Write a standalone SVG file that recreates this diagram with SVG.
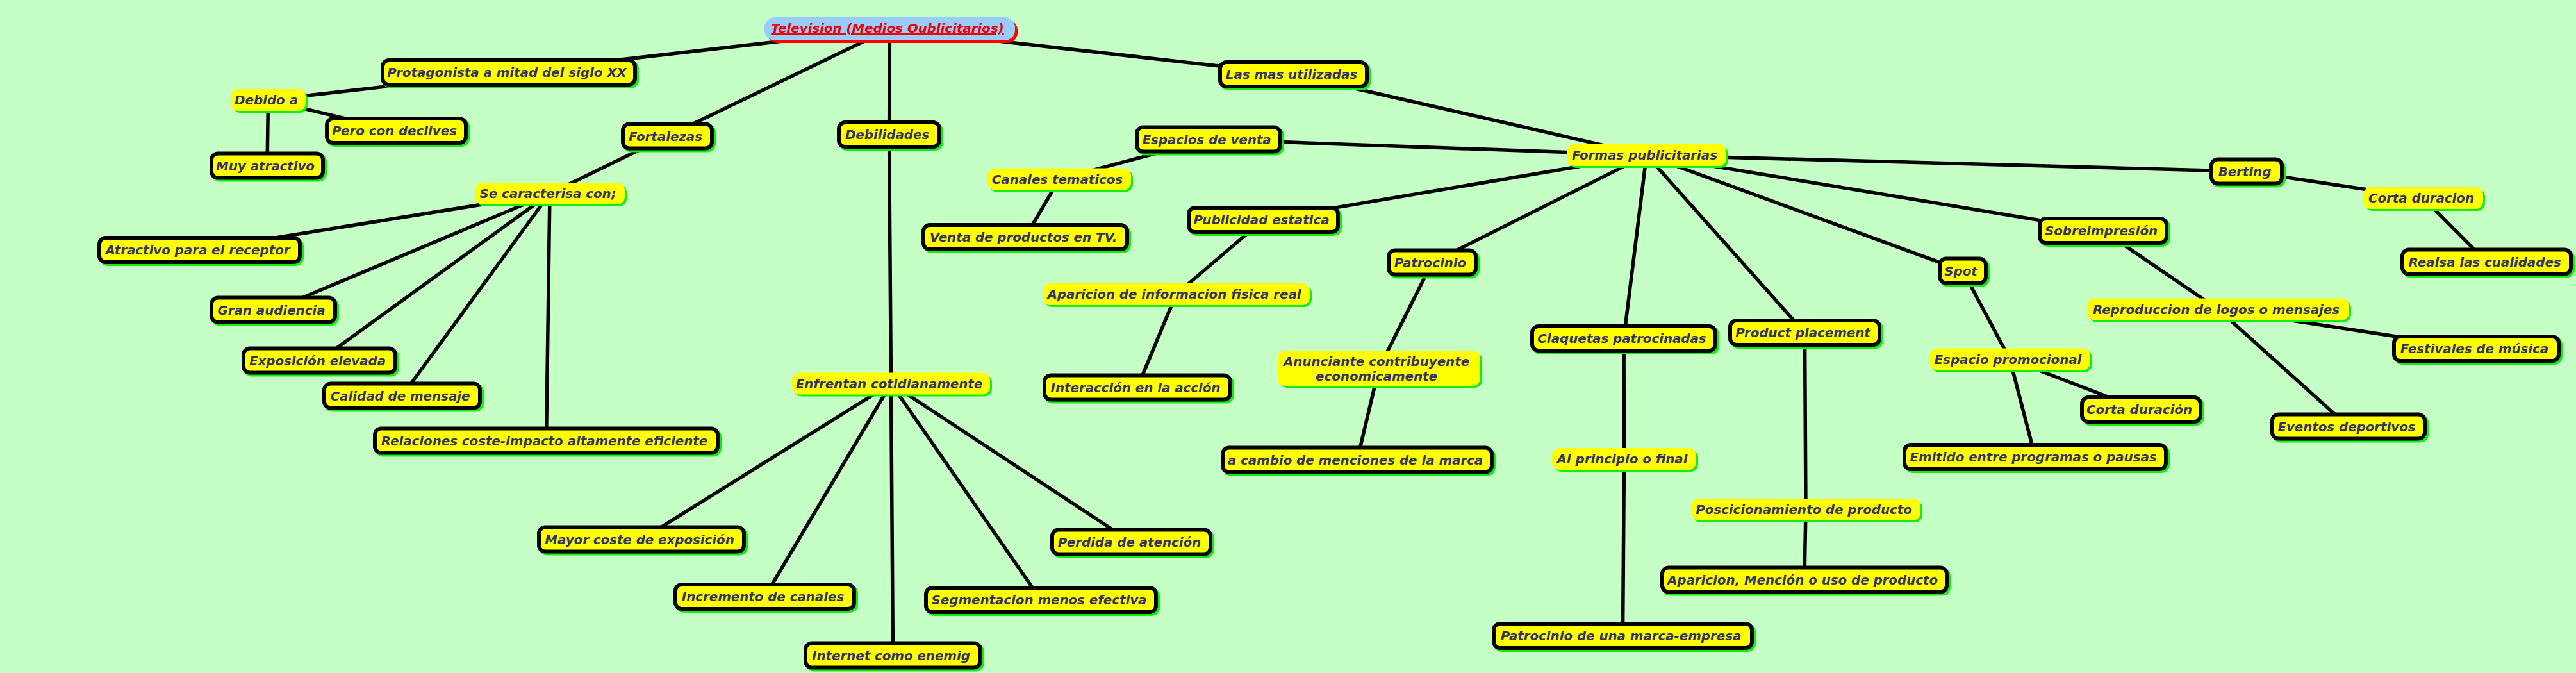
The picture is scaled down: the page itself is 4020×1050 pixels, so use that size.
<svg xmlns="http://www.w3.org/2000/svg" width="4020" height="1050" viewBox="0 0 4020 1050">
<style>
.ln{stroke:#000;stroke-width:5.5;stroke-linecap:round;fill:none}
.sh{fill:#11ee11}
.bx{fill:#ffff00;stroke:#000;stroke-width:6}
.ub{fill:#ffff00}
.t{font-family:"DejaVu Sans",Verdana,sans-serif;font-weight:bold;font-style:italic;font-size:19.8px;fill:#333366;text-anchor:middle}
.rt{font-family:"DejaVu Sans",Verdana,sans-serif;font-weight:bold;font-style:italic;font-size:19.8px;fill:#ee0000;text-anchor:middle;text-decoration:underline}
</style>
<rect x="0" y="0" width="4020" height="1050" fill="#c6ffc6"/>
<g id="connectors">
<line class="ln" x1="1388.5" y1="45" x2="794" y2="113"/>
<line class="ln" x1="1388.5" y1="45" x2="1041.5" y2="212.5"/>
<line class="ln" x1="1388.5" y1="45" x2="1387.5" y2="210"/>
<line class="ln" x1="1388.5" y1="45" x2="2018.5" y2="116"/>
<line class="ln" x1="794" y1="113" x2="418.5" y2="156"/>
<line class="ln" x1="418.5" y1="156" x2="618.5" y2="204"/>
<line class="ln" x1="418.5" y1="156" x2="417" y2="258.5"/>
<line class="ln" x1="1041.5" y1="212.5" x2="858" y2="302"/>
<line class="ln" x1="858" y1="302" x2="311.5" y2="390"/>
<line class="ln" x1="858" y1="302" x2="426.5" y2="483.5"/>
<line class="ln" x1="858" y1="302" x2="498.5" y2="562.5"/>
<line class="ln" x1="858" y1="302" x2="627.5" y2="617.5"/>
<line class="ln" x1="858" y1="302" x2="852.5" y2="687.5"/>
<line class="ln" x1="1387.5" y1="210" x2="1390.5" y2="598.5"/>
<line class="ln" x1="1390.5" y1="598.5" x2="1001" y2="841.5"/>
<line class="ln" x1="1390.5" y1="598.5" x2="1193.5" y2="931"/>
<line class="ln" x1="1390.5" y1="598.5" x2="1393.5" y2="1022.5"/>
<line class="ln" x1="1390.5" y1="598.5" x2="1624.5" y2="936"/>
<line class="ln" x1="1390.5" y1="598.5" x2="1765.5" y2="845.5"/>
<line class="ln" x1="2018.5" y1="116" x2="2569.5" y2="242"/>
<line class="ln" x1="2569.5" y1="242" x2="1886" y2="217.5"/>
<line class="ln" x1="2569.5" y1="242" x2="1971.5" y2="343"/>
<line class="ln" x1="2569.5" y1="242" x2="2235" y2="409.5"/>
<line class="ln" x1="2569.5" y1="242" x2="2534" y2="528"/>
<line class="ln" x1="2569.5" y1="242" x2="2816.5" y2="519"/>
<line class="ln" x1="2569.5" y1="242" x2="3063" y2="422.5"/>
<line class="ln" x1="2569.5" y1="242" x2="3282" y2="360"/>
<line class="ln" x1="2569.5" y1="242" x2="3506" y2="267.5"/>
<line class="ln" x1="1886" y1="217.5" x2="1653" y2="279.5"/>
<line class="ln" x1="1653" y1="279.5" x2="1600" y2="370"/>
<line class="ln" x1="1971.5" y1="343" x2="1835.5" y2="459"/>
<line class="ln" x1="1835.5" y1="459" x2="1775" y2="604.5"/>
<line class="ln" x1="2235" y1="409.5" x2="2152" y2="574.5"/>
<line class="ln" x1="2152" y1="574.5" x2="2118" y2="717.5"/>
<line class="ln" x1="2534" y1="528" x2="2534.5" y2="716"/>
<line class="ln" x1="2534.5" y1="716" x2="2532.5" y2="992"/>
<line class="ln" x1="2816.5" y1="519" x2="2818" y2="795"/>
<line class="ln" x1="2818" y1="795" x2="2816" y2="904.5"/>
<line class="ln" x1="3063" y1="422.5" x2="3136.5" y2="560.5"/>
<line class="ln" x1="3136.5" y1="560.5" x2="3341.5" y2="639"/>
<line class="ln" x1="3136.5" y1="560.5" x2="3176" y2="713"/>
<line class="ln" x1="3282" y1="360" x2="3461.5" y2="482.5"/>
<line class="ln" x1="3461.5" y1="482.5" x2="3864.5" y2="544"/>
<line class="ln" x1="3461.5" y1="482.5" x2="3665" y2="665.5"/>
<line class="ln" x1="3506" y1="267.5" x2="3781.5" y2="309"/>
<line class="ln" x1="3781.5" y1="309" x2="3880.5" y2="408.5"/>
</g>
<g id="root">
<rect x="1197" y="31" width="391" height="36" rx="16" fill="#ff0000"/>
<rect x="1193" y="27" width="391" height="36" rx="16" fill="#99ccff"/>
<text class="rt" x="1385" y="51">Television (Medios Oublicitarios)</text>
</g>
<g id="n-protagonista"><rect class="sh" x="597" y="94" width="400" height="44" rx="13"/><rect class="bx" x="597" y="94" width="394" height="38" rx="10"/><text class="t" x="791" y="120">Protagonista a mitad del siglo XX</text></g>
<g id="n-debido"><rect class="sh" x="363" y="142" width="117" height="34" rx="12"/><rect class="ub" x="360" y="139" width="117" height="34" rx="12"/><text class="t" x="415.5" y="163">Debido a</text></g>
<g id="n-pero"><rect class="sh" x="510" y="185" width="223" height="44" rx="13"/><rect class="bx" x="510" y="185" width="217" height="38" rx="10"/><text class="t" x="615.5" y="211">Pero con declives</text></g>
<g id="n-muy"><rect class="sh" x="330" y="239.5" width="180" height="44" rx="13"/><rect class="bx" x="330" y="239.5" width="174" height="38" rx="10"/><text class="t" x="414" y="265.5">Muy atractivo</text></g>
<g id="n-fortalezas"><rect class="sh" x="972" y="193.5" width="145" height="44" rx="13"/><rect class="bx" x="972" y="193.5" width="139" height="38" rx="10"/><text class="t" x="1038.5" y="219.5">Fortalezas</text></g>
<g id="n-secaracterisa"><rect class="sh" x="744" y="288" width="234" height="34" rx="12"/><rect class="ub" x="741" y="285" width="234" height="34" rx="12"/><text class="t" x="855" y="309">Se caracterisa con;</text></g>
<g id="n-debilidades"><rect class="sh" x="1309" y="191" width="163" height="44" rx="13"/><rect class="bx" x="1309" y="191" width="157" height="38" rx="10"/><text class="t" x="1384.5" y="217">Debilidades</text></g>
<g id="n-lasmas"><rect class="sh" x="1904" y="97" width="235" height="44" rx="13"/><rect class="bx" x="1904" y="97" width="229" height="38" rx="10"/><text class="t" x="2015.5" y="123">Las mas utilizadas</text></g>
<g id="n-espacios"><rect class="sh" x="1774" y="198.5" width="230" height="44" rx="13"/><rect class="bx" x="1774" y="198.5" width="224" height="38" rx="10"/><text class="t" x="1883" y="224.5">Espacios de venta</text></g>
<g id="n-canales"><rect class="sh" x="1544" y="265.5" width="224" height="34" rx="12"/><rect class="ub" x="1541" y="262.5" width="224" height="34" rx="12"/><text class="t" x="1650" y="286.5">Canales tematicos</text></g>
<g id="n-venta"><rect class="sh" x="1441" y="351" width="324" height="44" rx="13"/><rect class="bx" x="1441" y="351" width="318" height="38" rx="10"/><text class="t" x="1597" y="377">Venta de productos en TV.</text></g>
<g id="n-publicidad"><rect class="sh" x="1855" y="324" width="239" height="44" rx="13"/><rect class="bx" x="1855" y="324" width="233" height="38" rx="10"/><text class="t" x="1968.5" y="350">Publicidad estatica</text></g>
<g id="n-formas"><rect class="sh" x="2448" y="228" width="249" height="34" rx="12"/><rect class="ub" x="2445" y="225" width="249" height="34" rx="12"/><text class="t" x="2566.5" y="249">Formas publicitarias</text></g>
<g id="n-aparicioninfo"><rect class="sh" x="1630" y="445" width="417" height="34" rx="12"/><rect class="ub" x="1627" y="442" width="417" height="34" rx="12"/><text class="t" x="1832.5" y="466">Aparicion de informacion fisica real</text></g>
<g id="n-interaccion"><rect class="sh" x="1630" y="585.5" width="296" height="44" rx="13"/><rect class="bx" x="1630" y="585.5" width="290" height="38" rx="10"/><text class="t" x="1772" y="611.5">Interacción en la acción</text></g>
<g id="n-patrocinio"><rect class="sh" x="2167" y="390.5" width="142" height="44" rx="13"/><rect class="bx" x="2167" y="390.5" width="136" height="38" rx="10"/><text class="t" x="2232" y="416.5">Patrocinio</text></g>
<g id="n-anunciante"><rect class="sh" x="1997" y="550" width="316" height="55" rx="12"/><rect class="ub" x="1994" y="547" width="316" height="55" rx="12"/><text class="t" x="2148" y="571">Anunciante contribuyente</text><text class="t" x="2148" y="594">economicamente</text></g>
<g id="n-acambio"><rect class="sh" x="1908" y="698.5" width="426" height="44" rx="13"/><rect class="bx" x="1908" y="698.5" width="420" height="38" rx="10"/><text class="t" x="2115" y="724.5">a cambio de menciones de la marca</text></g>
<g id="n-claquetas"><rect class="sh" x="2391" y="509" width="292" height="44" rx="13"/><rect class="bx" x="2391" y="509" width="286" height="38" rx="10"/><text class="t" x="2531" y="535">Claquetas patrocinadas</text></g>
<g id="n-alprincipio"><rect class="sh" x="2425" y="702" width="225" height="34" rx="12"/><rect class="ub" x="2422" y="699" width="225" height="34" rx="12"/><text class="t" x="2531.5" y="723">Al principio o final</text></g>
<g id="n-patrociniomarca"><rect class="sh" x="2331" y="973" width="409" height="44" rx="13"/><rect class="bx" x="2331" y="973" width="403" height="38" rx="10"/><text class="t" x="2529.5" y="999">Patrocinio de una marca-empresa</text></g>
<g id="n-productplacement"><rect class="sh" x="2700" y="500" width="239" height="44" rx="13"/><rect class="bx" x="2700" y="500" width="233" height="38" rx="10"/><text class="t" x="2813.5" y="526">Product placement</text></g>
<g id="n-poscicionamiento"><rect class="sh" x="2642" y="781" width="358" height="34" rx="12"/><rect class="ub" x="2639" y="778" width="358" height="34" rx="12"/><text class="t" x="2815" y="802">Poscicionamiento de producto</text></g>
<g id="n-aparicionmencion"><rect class="sh" x="2594" y="885.5" width="450" height="44" rx="13"/><rect class="bx" x="2594" y="885.5" width="444" height="38" rx="10"/><text class="t" x="2813" y="911.5">Aparicion, Mención o uso de producto</text></g>
<g id="n-spot"><rect class="sh" x="3027" y="403.5" width="78" height="44" rx="13"/><rect class="bx" x="3027" y="403.5" width="72" height="38" rx="10"/><text class="t" x="3060" y="429.5">Spot</text></g>
<g id="n-espaciopromo"><rect class="sh" x="3014" y="546.5" width="251" height="34" rx="12"/><rect class="ub" x="3011" y="543.5" width="251" height="34" rx="12"/><text class="t" x="3133.5" y="567.5">Espacio promocional</text></g>
<g id="n-cortaduracion2"><rect class="sh" x="3249" y="620" width="191" height="44" rx="13"/><rect class="bx" x="3249" y="620" width="185" height="38" rx="10"/><text class="t" x="3338.5" y="646">Corta duración</text></g>
<g id="n-emitido"><rect class="sh" x="2972" y="694" width="414" height="44" rx="13"/><rect class="bx" x="2972" y="694" width="408" height="38" rx="10"/><text class="t" x="3173" y="720">Emitido entre programas o pausas</text></g>
<g id="n-sobreimpresion"><rect class="sh" x="3183" y="341" width="204" height="44" rx="13"/><rect class="bx" x="3183" y="341" width="198" height="38" rx="10"/><text class="t" x="3279" y="367">Sobreimpresión</text></g>
<g id="n-reproduccion"><rect class="sh" x="3260" y="468.5" width="409" height="34" rx="12"/><rect class="ub" x="3257" y="465.5" width="409" height="34" rx="12"/><text class="t" x="3458.5" y="489.5">Reproduccion de logos o mensajes</text></g>
<g id="n-festivales"><rect class="sh" x="3736" y="525" width="263" height="44" rx="13"/><rect class="bx" x="3736" y="525" width="257" height="38" rx="10"/><text class="t" x="3861.5" y="551">Festivales de música</text></g>
<g id="n-eventos"><rect class="sh" x="3546" y="646.5" width="244" height="44" rx="13"/><rect class="bx" x="3546" y="646.5" width="238" height="38" rx="10"/><text class="t" x="3662" y="672.5">Eventos deportivos</text></g>
<g id="n-berting"><rect class="sh" x="3451" y="248.5" width="116" height="44" rx="13"/><rect class="bx" x="3451" y="248.5" width="110" height="38" rx="10"/><text class="t" x="3503" y="274.5">Berting</text></g>
<g id="n-cortaduracion"><rect class="sh" x="3691" y="295" width="187" height="34" rx="12"/><rect class="ub" x="3688" y="292" width="187" height="34" rx="12"/><text class="t" x="3778.5" y="316">Corta duracion</text></g>
<g id="n-realsa"><rect class="sh" x="3749" y="389.5" width="269" height="44" rx="13"/><rect class="bx" x="3749" y="389.5" width="263" height="38" rx="10"/><text class="t" x="3877.5" y="415.5">Realsa las cualidades</text></g>
<g id="n-enfrentan"><rect class="sh" x="1239" y="584.5" width="309" height="34" rx="12"/><rect class="ub" x="1236" y="581.5" width="309" height="34" rx="12"/><text class="t" x="1387.5" y="605.5">Enfrentan cotidianamente</text></g>
<g id="n-mayor"><rect class="sh" x="841" y="822.5" width="326" height="44" rx="13"/><rect class="bx" x="841" y="822.5" width="320" height="38" rx="10"/><text class="t" x="998" y="848.5">Mayor coste de exposición</text></g>
<g id="n-incremento"><rect class="sh" x="1054" y="912" width="285" height="44" rx="13"/><rect class="bx" x="1054" y="912" width="279" height="38" rx="10"/><text class="t" x="1190.5" y="938">Incremento de canales</text></g>
<g id="n-internet"><rect class="sh" x="1257" y="1003.5" width="279" height="44" rx="13"/><rect class="bx" x="1257" y="1003.5" width="273" height="38" rx="10"/><text class="t" x="1390.5" y="1029.5">Internet como enemig</text></g>
<g id="n-segmentacion"><rect class="sh" x="1445" y="917" width="365" height="44" rx="13"/><rect class="bx" x="1445" y="917" width="359" height="38" rx="10"/><text class="t" x="1621.5" y="943">Segmentacion menos efectiva</text></g>
<g id="n-perdida"><rect class="sh" x="1642" y="826.5" width="253" height="44" rx="13"/><rect class="bx" x="1642" y="826.5" width="247" height="38" rx="10"/><text class="t" x="1762.5" y="852.5">Perdida de atención</text></g>
<g id="n-atractivo"><rect class="sh" x="155" y="371" width="319" height="44" rx="13"/><rect class="bx" x="155" y="371" width="313" height="38" rx="10"/><text class="t" x="308.5" y="397">Atractivo para el receptor</text></g>
<g id="n-gran"><rect class="sh" x="330" y="464.5" width="199" height="44" rx="13"/><rect class="bx" x="330" y="464.5" width="193" height="38" rx="10"/><text class="t" x="423.5" y="490.5">Gran audiencia</text></g>
<g id="n-exposicion"><rect class="sh" x="380" y="543.5" width="243" height="44" rx="13"/><rect class="bx" x="380" y="543.5" width="237" height="38" rx="10"/><text class="t" x="495.5" y="569.5">Exposición elevada</text></g>
<g id="n-calidad"><rect class="sh" x="506" y="598.5" width="249" height="44" rx="13"/><rect class="bx" x="506" y="598.5" width="243" height="38" rx="10"/><text class="t" x="624.5" y="624.5">Calidad de mensaje</text></g>
<g id="n-relaciones"><rect class="sh" x="585" y="668.5" width="541" height="44" rx="13"/><rect class="bx" x="585" y="668.5" width="535" height="38" rx="10"/><text class="t" x="849.5" y="694.5">Relaciones coste-impacto altamente eficiente</text></g>
</svg>
